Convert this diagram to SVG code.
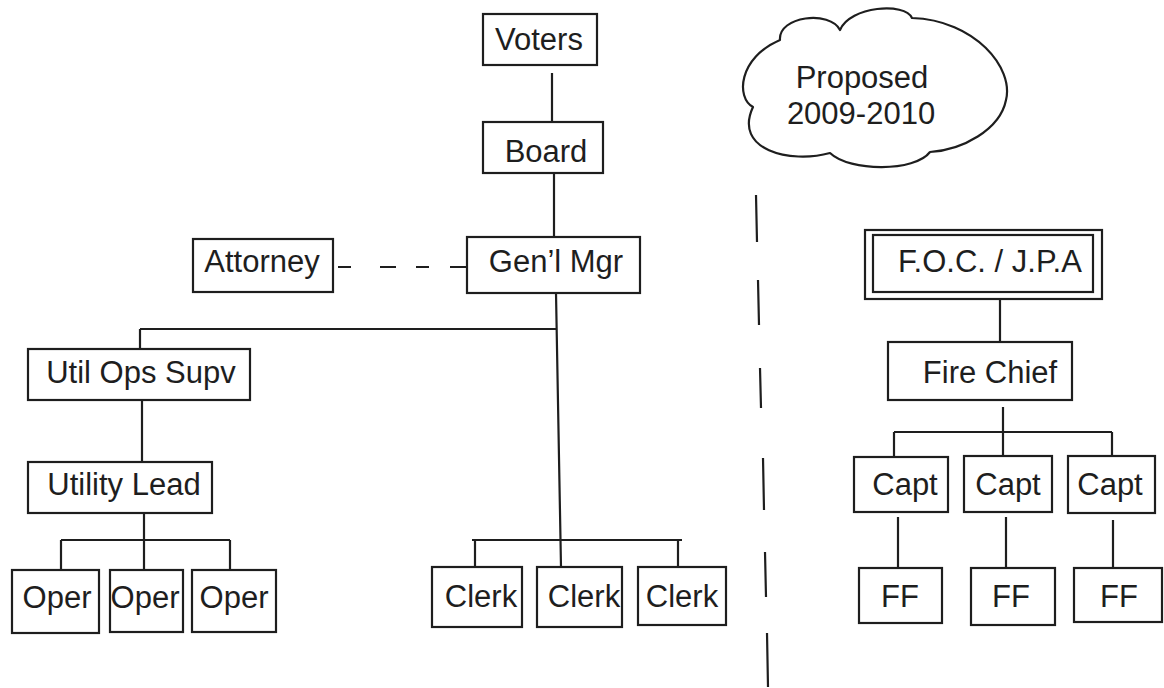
<svg xmlns="http://www.w3.org/2000/svg" width="1164" height="688" viewBox="0 0 1164 688">
<style>
.box{fill:#fff;stroke:#1e1e1e;stroke-width:2.2}
.lbl{font-family:"Liberation Sans",Arial,sans-serif;font-size:31px;fill:#1e1e1e;text-anchor:middle}
.ln{fill:none;stroke:#1e1e1e;stroke-width:2.2}
.cloud{fill:#fff;stroke:#1e1e1e;stroke-width:2.2;stroke-linejoin:round}
</style>
<rect width="1164" height="688" fill="#fff"/>
<g id="connectors">
<path class="ln" d="M552,73V122 M554,173V237 M556,293L561,567 M140,329H557 M140,329V349 M142,400V462 M144,513V540 M61,540H230 M61,540V570 M144,540V570 M230,540V570 M472,540H682 M475,540V567 M678,540V567 M1000,299V342 M1003,407V456 M894,432H1112 M894,432V457 M1112,432V456 M898,517V568 M1006,517V568 M1113,520V568"/>
<path id="attorney-link" class="ln" d="M338,267H351 M380,267H396 M416,267H429 M450,267H466"/>
<path id="divider" class="ln" stroke-width="2.4" d="M756,195L757,242 M758,280L759,325 M760,368L761,408 M763,458L764,510 M765,552L766,597 M767,633L768,687"/>
</g>
<g id="cloud">
<path class="cloud" d="M753,107 C736,98 738,58 780,40 C778,16 830,10 840,30 C850,6 905,2 912,18 C975,20 1014,68 1006,100 C1000,130 962,150 930,152 C915,172 850,172 830,153 C790,164 733,150 753,107 Z"/>
<text class="lbl" x="862" y="88">Proposed</text>
<text class="lbl" x="861" y="124">2009-2010</text>
</g>
<g id="voters"><rect class="box" x="483" y="14" width="114" height="51"/><text class="lbl" x="539" y="50">Voters</text></g>
<g id="board"><rect class="box" x="483" y="122" width="120" height="51"/><text class="lbl" x="546" y="162">Board</text></g>
<g id="genmgr"><rect class="box" x="467" y="237" width="173" height="56"/><text class="lbl" x="556" y="272">Gen’l Mgr</text></g>
<g id="attorney"><rect class="box" x="193" y="239" width="140" height="53"/><text class="lbl" x="262" y="272">Attorney</text></g>
<g id="utilops"><rect class="box" x="28" y="349" width="222" height="51"/><text class="lbl" x="141" y="383">Util Ops Supv</text></g>
<g id="utillead"><rect class="box" x="28" y="462" width="184" height="51"/><text class="lbl" x="124" y="495">Utility Lead</text></g>
<g id="oper1"><rect class="box" x="12" y="570" width="87" height="63"/><text class="lbl" x="57" y="608">Oper</text></g>
<g id="oper2"><rect class="box" x="110" y="570" width="73" height="62"/><text class="lbl" x="145" y="608">Oper</text></g>
<g id="oper3"><rect class="box" x="192" y="570" width="84" height="62"/><text class="lbl" x="234" y="608">Oper</text></g>
<g id="clerk1"><rect class="box" x="432" y="567" width="90" height="60"/><text class="lbl" x="481" y="607">Clerk</text></g>
<g id="clerk2"><rect class="box" x="537" y="567" width="85" height="60"/><text class="lbl" x="584" y="607">Clerk</text></g>
<g id="clerk3"><rect class="box" x="638" y="567" width="88" height="58"/><text class="lbl" x="682" y="607">Clerk</text></g>
<g id="foc"><rect class="box" x="865" y="230" width="237" height="69"/><rect class="box" x="873" y="235" width="220" height="57"/><text class="lbl" x="990" y="272">F.O.C. / J.P.A</text></g>
<g id="firechief"><rect class="box" x="888" y="342" width="184" height="58"/><text class="lbl" x="990" y="383">Fire Chief</text></g>
<g id="capt1"><rect class="box" x="854" y="457" width="94" height="55"/><text class="lbl" x="905" y="495">Capt</text></g>
<g id="capt2"><rect class="box" x="964" y="456" width="88" height="56"/><text class="lbl" x="1008" y="495">Capt</text></g>
<g id="capt3"><rect class="box" x="1068" y="456" width="87" height="57"/><text class="lbl" x="1110" y="495">Capt</text></g>
<g id="ff1"><rect class="box" x="859" y="568" width="83" height="55"/><text class="lbl" x="900" y="607">FF</text></g>
<g id="ff2"><rect class="box" x="971" y="568" width="84" height="57"/><text class="lbl" x="1011" y="607">FF</text></g>
<g id="ff3"><rect class="box" x="1074" y="568" width="88" height="54"/><text class="lbl" x="1119" y="607">FF</text></g>
</svg>
